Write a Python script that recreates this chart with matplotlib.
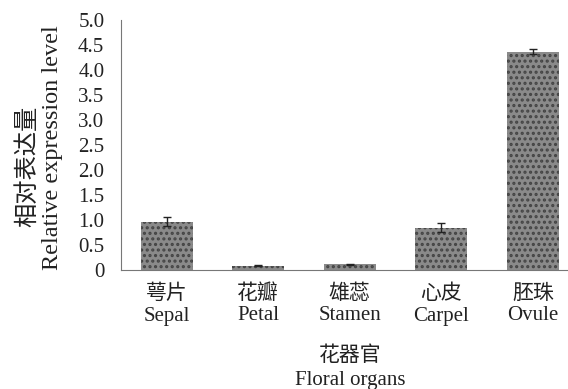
import matplotlib
matplotlib.use("Agg")
import matplotlib.pyplot as plt
import numpy as np

categories_cn = ["萼片", "花瓣", "雄蕊", "心皮", "胚珠"]
categories_en = ["Sepal", "Petal", "Stamen", "Carpel", "Ovule"]
values = [0.97, 0.09, 0.12, 0.85, 4.37]
errors = [0.09, 0.01, 0.01, 0.09, 0.05]
yticks = [0, 0.5, 1.0, 1.5, 2.0, 2.5, 3.0, 3.5, 4.0, 4.5, 5.0]
ytick_labels = ["0", "0.5", "1.0", "1.5", "2.0", "2.5", "3.0", "3.5", "4.0", "4.5", "5.0"]

fam = ["Liberation Serif", "Noto Sans CJK SC"]
plt.rcParams['font.family'] = fam
plt.rcParams['hatch.linewidth'] = 1.5

W, H = 568, 389
fig = plt.figure(figsize=(W/100, H/100), dpi=100)
ax = fig.add_axes([121/W, 1-270/H, (568-121)/W, 250/H])

x = np.arange(len(values))
ax.bar(x, values, width=0.57, color='#8a8a8a', edgecolor='#444444', linewidth=0,
       hatch='...', yerr=errors, capsize=3,
       error_kw=dict(ecolor='#222222', elinewidth=1, capthick=1))

ax.set_xlim(-0.5, 4 + (568-533)/91.3)
ax.set_ylim(0, 5.0)
ax.set_yticks(yticks)
ax.set_yticklabels(ytick_labels, fontsize=15, color='#222222')
ax.tick_params(axis='y', length=0, pad=12)
ax.set_xticks(x)
ax.set_xticklabels([])
ax.tick_params(axis='x', length=0)
for xi, c, e in zip(x, categories_cn, categories_en):
    ax.annotate(c, (xi, 0), xycoords=('data', 'axes fraction'), xytext=(0, -24),
                textcoords='offset pixels', ha='center', va='center',
                fontsize=15, color='#222222', fontweight='light')
    ax.annotate(e, (xi, 0), xycoords=('data', 'axes fraction'), xytext=(0, -46),
                textcoords='offset pixels', ha='center', va='center',
                fontsize=15, color='#222222')

for s in ['top', 'right']:
    ax.spines[s].set_visible(False)
for s in ['left', 'bottom']:
    ax.spines[s].set_linestyle((0, (1, 1)))
    ax.spines[s].set_color('#777777')
    ax.spines[s].set_linewidth(0.8)

fig.text(28/W, 1-166/H, "相对表达量", rotation=90, ha='center', va='center',
         fontsize=17.5, color='#222222', fontweight='light')
fig.text(53/W, 1-148/H, "Relative expression level", rotation=90, ha='center', va='center',
         fontsize=17.5, color='#222222')
fig.text(350/W, 1-356/H, "花器官", ha='center', va='center', fontsize=15,
         color='#222222', fontweight='light')
fig.text(350/W, 1-380/H, "Floral organs", ha='center', va='center', fontsize=15, color='#222222')

fig.savefig("out.png", dpi=100)
